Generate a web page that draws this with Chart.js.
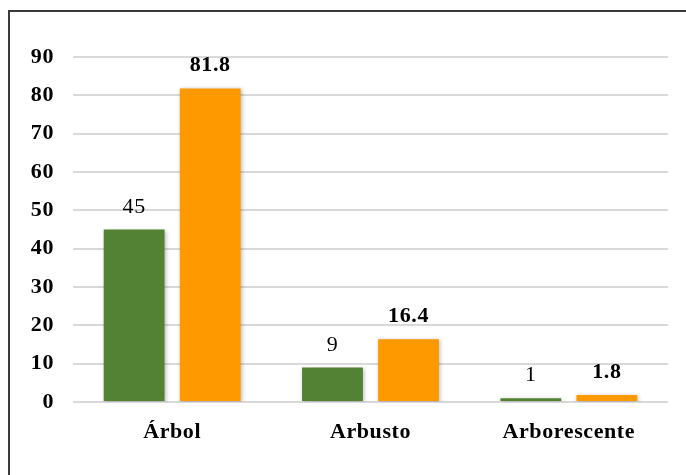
<!DOCTYPE html>
<html>
<head>
<meta charset="utf-8">
<script src="https://cdn.jsdelivr.net/npm/chart.js@4/dist/chart.umd.min.js"></script>
<style>
  html, body { margin: 0; padding: 0; background: #fff; overflow: hidden; }
  #wrap { position: relative; width: 686px; height: 475px; }
  #frame { position: absolute; left: 8px; top: 10px; width: 700px; height: 500px; border: 2px solid #3a3a3a; box-sizing: border-box; }
  canvas { position: absolute; left: 0; top: 0; }
</style>
</head>
<body>
<div id="wrap">
  <div id="frame"></div>
  <canvas id="c" width="686" height="475"></canvas>
</div>
<script>
// Growth-form categories and the two series drawn for each
const categories = ['Árbol', 'Arbusto', 'Arborescente'];
const countValues = [45, 9, 1];
const percentValues = [81.8, 16.4, 1.8];
const yTicks = [0, 10, 20, 30, 40, 50, 60, 70, 80, 90];

const FONT = "'Liberation Serif', 'Times New Roman', serif";

// Slightly open letter spacing for all chart text
const textSpacing = {
  id: 'textSpacing',
  beforeDraw(chart) {
    if ('letterSpacing' in chart.ctx) chart.ctx.letterSpacing = '0.6px';
  }
};

// Soft drop shadow behind the bars
const barShadow = {
  id: 'barShadow',
  beforeDatasetsDraw(chart) {
    const ctx = chart.ctx;
    ctx.save();
    ctx.shadowColor = 'rgba(0,0,0,0.28)';
    ctx.shadowBlur = 4;
    ctx.shadowOffsetX = 1;
    ctx.shadowOffsetY = 1;
  },
  afterDatasetsDraw(chart) {
    chart.ctx.restore();
  }
};

// Value labels above each bar
const valueLabels = {
  id: 'valueLabels',
  afterDatasetsDraw(chart) {
    const ctx = chart.ctx;
    ctx.save();
    ctx.textAlign = 'center';
    ctx.textBaseline = 'alphabetic';
    ctx.fillStyle = '#000';
    chart.data.datasets.forEach((ds, di) => {
      const meta = chart.getDatasetMeta(di);
      ctx.font = (ds.labelBold ? 'bold ' : '') + '22px ' + FONT;
      meta.data.forEach((bar, i) => {
        ctx.fillText(String(ds.data[i]), bar.x, bar.y - 17);
      });
    });
    ctx.restore();
  }
};

new Chart(document.getElementById('c'), {
  type: 'bar',
  data: {
    labels: categories,
    datasets: [
      { data: countValues, backgroundColor: '#548235', labelBold: false },
      { data: percentValues, backgroundColor: '#FF9900', labelBold: true }
    ]
  },
  options: {
    responsive: false,
    animation: false,
    devicePixelRatio: 1,
    categoryPercentage: 0.767,
    barPercentage: 0.80,
    layout: { padding: { left: 0, top: 57, right: 18, bottom: 0 } },
    plugins: { legend: { display: false }, tooltip: { enabled: false } },
    scales: {
      x: {
        grid: { display: false, drawTicks: false },
        border: { display: false },
        ticks: { color: '#000', padding: 17, font: { family: FONT, size: 22, weight: 'bold' } },
        afterFit(scale) { scale.height = 73; }
      },
      y: {
        min: 0,
        max: 90,
        afterBuildTicks(scale) { scale.ticks = yTicks.map(v => ({ value: v })); },
        grid: { color: '#d9d9d9', lineWidth: 2, drawTicks: false },
        border: { display: false },
        ticks: { color: '#000', padding: 19, font: { family: FONT, size: 22, weight: 'bold' } },
        afterFit(scale) { scale.width = 73; }
      }
    }
  },
  plugins: [textSpacing, barShadow, valueLabels]
});
</script>
</body>
</html>
